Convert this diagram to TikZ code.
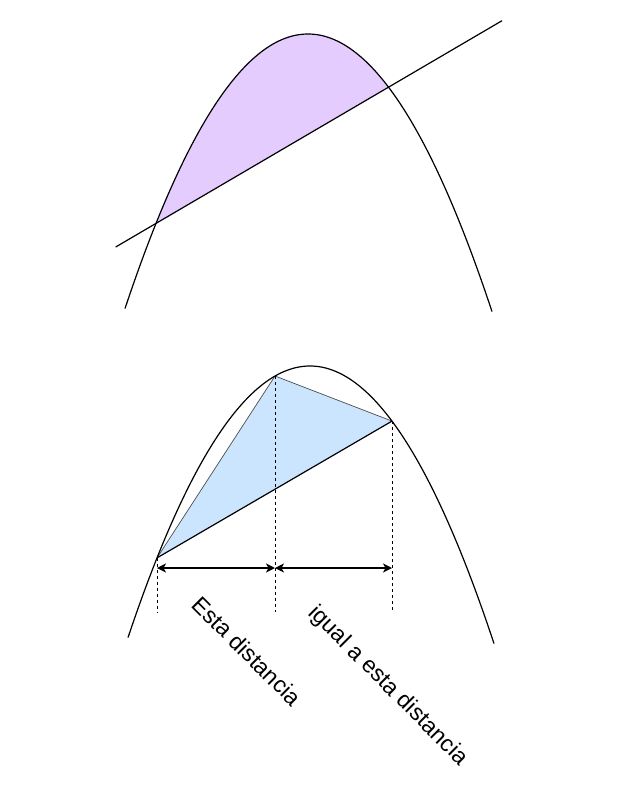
\documentclass[tikz,border=0pt]{standalone}
\usepackage{fontspec}
\setmainfont{Liberation Sans}
\usetikzlibrary{arrows.meta}

\definecolor{lilac}{HTML}{E5CCFF}
\definecolor{skyfill}{HTML}{CCE5FF}

\begin{document}
\begin{tikzpicture}[x=1pt, y=-1pt, line width=1.2pt]
    \useasboundingbox (0,0) rectangle (618,800);

    % Top parabola and secant, area between them shaded
    \coordinate (P) at (115.7,247);
    \coordinate (Q) at (502,20.7);
    \begin{scope}
        \clip (P) -- (Q) -- (502,0) -- (115.7,0) -- cycle;
        \fill[lilac] plot[domain=125:492, samples=120] (\x, {34+(0.09055*(\x-308))^2}) -- cycle;
    \end{scope}
    \draw plot[domain=125:492, samples=120] (\x, {34+(0.09055*(\x-308))^2});
    \draw (P) -- (Q);

    % Bottom parabola with inscribed triangle
    \coordinate (A) at (157,557.9);
    \coordinate (B) at (275,376);
    \coordinate (C) at (392,421.1);
    \fill[skyfill] (A) -- (B) -- (C) -- cycle;
    \draw[gray!60!black, line width=0.7pt] (A) -- (B) -- (C);
    \draw (A) -- (C);
    \draw plot[domain=128:494, samples=120] (\x, {366+(0.09055*(\x-310))^2});

    % Dashed drop lines
    \coordinate (A') at (157,612);
    \coordinate (B') at (275,612);
    \coordinate (C') at (392,612);
    \draw[dashed, line width=1pt, dash pattern=on 3pt off 3pt] (A) -- (A');
    \draw[dashed, line width=1pt, dash pattern=on 3pt off 3pt] (B) -- (B');
    \draw[dashed, line width=1pt, dash pattern=on 3pt off 3pt] (C) -- (C');

    % Distance arrows
    \coordinate (a1) at (157,568);
    \coordinate (b1) at (275,568);
    \coordinate (c1) at (392,568);
    \draw[<->, >={Stealth[length=9pt, width=9pt, inset=2.5pt]}] (a1) -- (b1);
    \draw[<->, >={Stealth[length=9pt, width=9pt, inset=2.5pt]}] (b1) -- (c1);

    % Labels
    \node[rotate=-45, font=\fontsize{23}{27}\selectfont] (esta) at (247,651) {Esta distancia};
    \node[rotate=-45, font=\fontsize{23}{27}\selectfont] (igual) at (388,686) {igual a esta distancia};
\end{tikzpicture}
\end{document}
